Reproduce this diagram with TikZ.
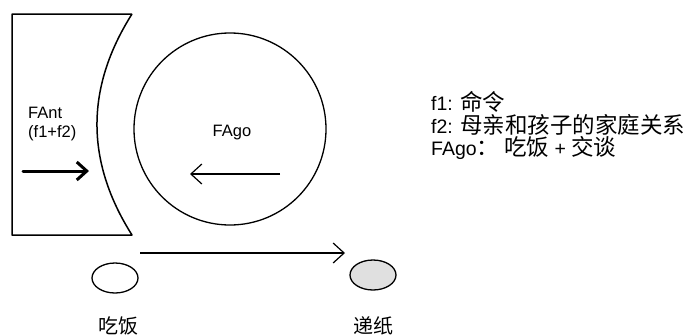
\documentclass[tikz,border=0pt]{standalone}
\usepackage{fontspec}
\setmainfont{Liberation Sans}
\newfontfamily\cjk{Noto Sans CJK SC}
\usetikzlibrary{arrows.meta,shapes.geometric}
\newcommand{\zh}[1]{{\cjk\fontsize{22.5}{22}\selectfont #1}}
\begin{document}
\begin{tikzpicture}[x=1pt,y=-1pt,
  outline/.style={line width=1.5pt, line join=round},
  thinarrow/.style={line width=1.2pt, -{Straight Barb[length=11pt,width=20pt]}},
  thickarrow/.style={line width=3pt, line cap=round, -{Straight Barb[length=10pt,width=18pt]}},
  lbl/.style={inner sep=0pt, font=\fontsize{16.5}{19}\selectfont},
  note/.style={inner sep=0pt, anchor=west, font=\fontsize{19.5}{22}\selectfont},
  oval/.style={ellipse, draw, line width=1.3pt, minimum width=46pt, minimum height=30pt, inner sep=0pt},
  word/.style={inner sep=0pt, font=\cjk\fontsize{20}{22}\selectfont}
]
\useasboundingbox (0,0) rectangle (691,335);
% left concave shape
\draw[outline] (132,14) -- (12,14) -- (12,235) -- (132,235)
  .. controls (85.3,161.3) and (85.3,87.7) .. (132,14);
\node[lbl, align=left, anchor=west] (ant) at (28,124) {FAnt\\(f1+f2)};
\coordinate (antS) at (23,171);
\coordinate (antE) at (89,171);
\draw[thickarrow] (antS) -- (antE);
% circle
\node[circle, draw, line width=1.3pt, minimum size=192pt, inner sep=0pt] (ago) at (230,129) {};
\node[lbl] (agolbl) at (232,133) {FAgo};
\coordinate (agoS) at (280,174);
\coordinate (agoE) at (190,174);
\draw[thinarrow] (agoS) -- (agoE);
% bottom
\node[oval] (eat) at (115,278) {};
\node[oval, fill=black!12] (paper) at (373,275) {};
\coordinate (bS) at (140,253);
\coordinate (bE) at (345,253);
\draw[thinarrow] (bS) -- (bE);
\node[word] (eatlbl) at (118,326) {吃饭};
\node[word] (paperlbl) at (373,326) {递纸};
% notes
\node[note] (n1) at (431,102) {f1: \zh{命令}};
\node[note] (n2) at (431,125) {f2: \zh{母亲和孩子的家庭关系}};
\node[note] (n3) at (431,148) {FAgo\zh{：\ 吃饭} + \zh{交谈}};
\end{tikzpicture}
\end{document}
